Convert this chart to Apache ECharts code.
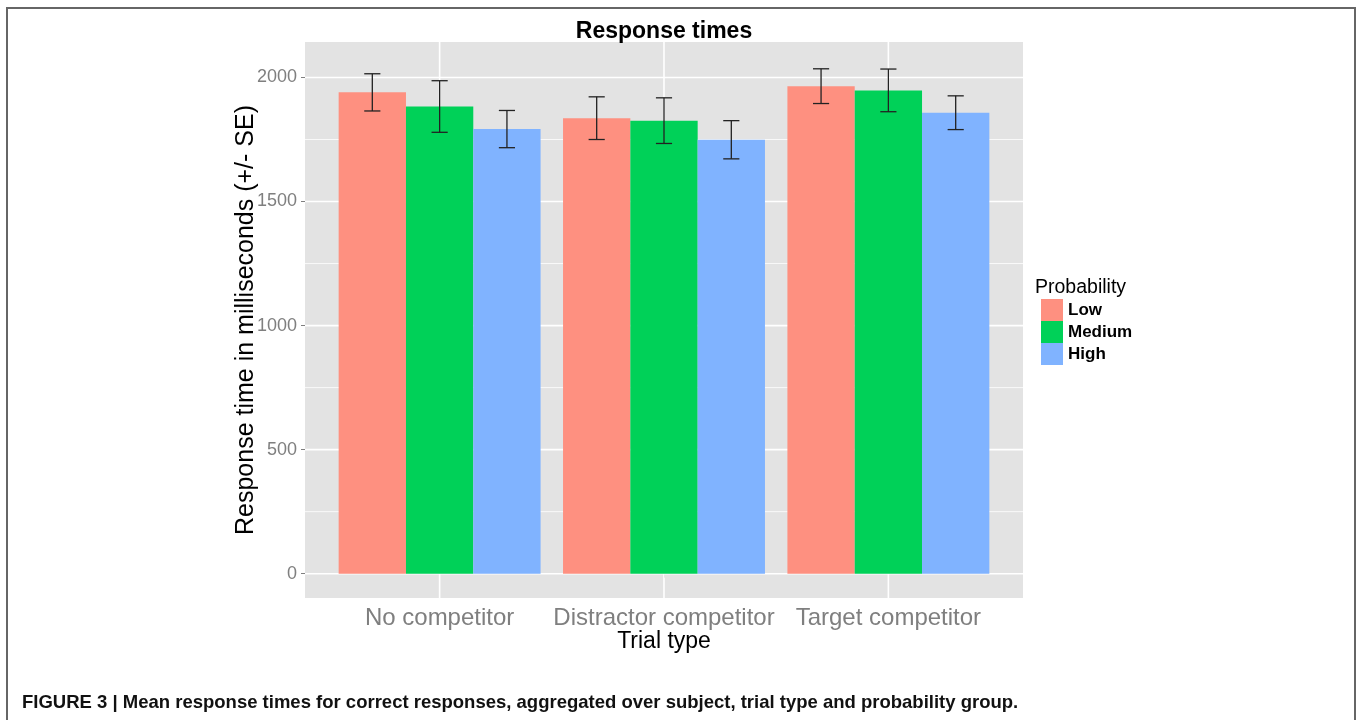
<!DOCTYPE html>
<html>
<head>
<meta charset="utf-8">
<title>Response times</title>
<script src="https://cdn.jsdelivr.net/npm/echarts@6/dist/echarts.min.js"></script>
<style>
    html, body { margin: 0; padding: 0; background: #fff; }
    #chart { width: 1358px; height: 720px; }
</style>
</head>
<body>
<div id="chart"></div>
<script>
// 数据
var categories = [ 'No competitor', 'Distractor competitor', 'Target competitor' ];
var levels = [ 'Low', 'Medium', 'High' ];
var lowMeans = [ 1940, 1836, 1965 ];
var mediumMeans = [ 1883, 1826, 1948 ];
var highMeans = [ 1792, 1749, 1858 ];
var lowSE = [ 75, 86, 70 ];
var mediumSE = [ 104, 92, 86 ];
var highSE = [ 75, 77, 68 ];
var yTicks = [ 0, 500, 1000, 1500, 2000 ];
var yMinor = [ 250, 750, 1250, 1750 ];
var xTicks = [ 1, 2, 3 ];

var colors = [ '#FE9080', '#00D158', '#80B3FF' ];
var FONT = 'Liberation Sans, Arial, sans-serif';

var resp_chart = {
    chart : null,
    dodge : 0.3,
    init : function() {
        this.chart = echarts.init(document.getElementById('chart'), null, { renderer : 'canvas' });
        this.chart.setOption(this.buildOption());
    },
    /**
     * 柱子 custom series
     */
    barSeries : function(name, k, means, color) {
        var dodge = this.dodge;
        var data = [];
        for (var i = 0; i < means.length; i++) {
            data.push([ xTicks[i] + (k - 1) * dodge, means[i] ]);
        }
        return {
            name : name,
            type : 'custom',
            z : 3,
            itemStyle : { color : color },
            data : data,
            renderItem : function(params, api) {
                var top = api.coord([ api.value(0), api.value(1) ]);
                var base = api.coord([ api.value(0), 0 ]);
                var w = api.size([ dodge, 0 ])[0];
                return {
                    type : 'rect',
                    shape : { x : top[0] - w / 2, y : top[1], width : w, height : base[1] - top[1] },
                    style : { fill : color }
                };
            }
        };
    },
    /**
     * 误差线
     */
    errSeries : function(k, means, se) {
        var dodge = this.dodge;
        var data = [];
        for (var i = 0; i < means.length; i++) {
            data.push([ xTicks[i] + (k - 1) * dodge, means[i] - se[i], means[i] + se[i] ]);
        }
        return {
            type : 'custom',
            z : 5,
            silent : true,
            data : data,
            renderItem : function(params, api) {
                var lo = api.coord([ api.value(0), api.value(1) ]);
                var hi = api.coord([ api.value(0), api.value(2) ]);
                var hw = api.size([ 0.072, 0 ])[0] / 2;
                var st = { stroke : '#222', lineWidth : 1.3 };
                return {
                    type : 'group',
                    children : [
                        { type : 'line', shape : { x1 : lo[0], y1 : lo[1], x2 : hi[0], y2 : hi[1] }, style : st },
                        { type : 'line', shape : { x1 : lo[0] - hw, y1 : lo[1], x2 : lo[0] + hw, y2 : lo[1] }, style : st },
                        { type : 'line', shape : { x1 : hi[0] - hw, y1 : hi[1], x2 : hi[0] + hw, y2 : hi[1] }, style : st }
                    ]
                };
            }
        };
    },
    /**
     * 网格线 (ggplot 样式)
     */
    gridSeries : function() {
        var data = [];
        for (var i = 0; i < yTicks.length; i++) data.push([ 'h', yTicks[i], 1.6 ]);
        for (var j = 0; j < yMinor.length; j++) data.push([ 'h', yMinor[j], 0.8 ]);
        for (var m = 0; m < xTicks.length; m++) data.push([ 'v', xTicks[m], 1.6 ]);
        return {
            type : 'custom',
            z : 1,
            silent : true,
            data : data,
            encode : { x : -1, y : -1 },
            renderItem : function(params, api) {
                var cs = params.coordSys;
                var d = data[params.dataIndex];
                var shape;
                if (d[0] == 'h') {
                    var y = api.coord([ 1, d[1] ])[1];
                    shape = { x1 : cs.x, y1 : y, x2 : cs.x + cs.width, y2 : y };
                } else {
                    var x = api.coord([ d[1], 0 ])[0];
                    shape = { x1 : x, y1 : cs.y, x2 : x, y2 : cs.y + cs.height };
                }
                return { type : 'line', shape : shape, style : { stroke : '#fff', lineWidth : d[2] } };
            }
        };
    },
    buildOption : function() {
        var series = [ this.gridSeries() ];
        series.push(this.barSeries(levels[0], 0, lowMeans, colors[0]));
        series.push(this.barSeries(levels[1], 1, mediumMeans, colors[1]));
        series.push(this.barSeries(levels[2], 2, highMeans, colors[2]));
        series.push(this.errSeries(0, lowMeans, lowSE));
        series.push(this.errSeries(1, mediumMeans, mediumSE));
        series.push(this.errSeries(2, highMeans, highSE));

        return {
            animation : false,
            textStyle : { fontFamily : FONT },
            grid : {
                left : 305,
                right : 335,
                top : 42,
                bottom : 122,
                show : true,
                backgroundColor : '#E3E3E3',
                borderWidth : 0
            },
            legend : {
                data : levels,
                orient : 'vertical',
                left : 1036,
                top : 294,
                itemWidth : 22,
                itemHeight : 22,
                itemGap : 0,
                icon : 'rect',
                textStyle : { fontSize : 17, fontWeight : 'bold', color : '#000' },
                selectedMode : false
            },
            xAxis : {
                type : 'value',
                min : 0.4,
                max : 3.6,
                name : 'Trial type',
                nameLocation : 'middle',
                nameGap : 32,
                nameMoveOverlap : false,
                nameTextStyle : { fontSize : 23, color : '#000' },
                axisLine : { show : false },
                splitLine : { show : false },
                axisTick : { show : true, length : 4, lineStyle : { color : '#7F7F7F' }, customValues : xTicks },
                axisLabel : {
                    customValues : xTicks,
                    fontSize : 24,
                    color : '#7F7F7F',
                    margin : 8,
                    formatter : function(v) {
                        return categories[Math.round(v) - 1];
                    }
                }
            },
            yAxis : {
                type : 'value',
                min : -98,
                max : 2143,
                name : 'Response time in milliseconds (+/- SE)',
                nameLocation : 'middle',
                nameRotate : 90,
                nameGap : 46,
                nameMoveOverlap : false,
                nameTextStyle : { fontSize : 25, color : '#000' },
                axisLine : { show : false },
                splitLine : { show : false },
                axisTick : { show : true, length : 4, lineStyle : { color : '#7F7F7F' }, customValues : yTicks },
                axisLabel : {
                    customValues : yTicks,
                    fontSize : 18,
                    color : '#7F7F7F',
                    margin : 8,
                    formatter : function(v) {
                        return String(v);
                    }
                }
            },
            graphic : [ {
                type : 'rect',
                shape : { x : 7, y : 8, width : 1348, height : 800 },
                style : { fill : 'none', stroke : '#666', lineWidth : 2 },
                silent : true
            }, {
                type : 'text',
                x : 664,
                y : 32,
                style : { text : 'Response times', fontSize : 23, fontWeight : 'bold', fill : '#000', textAlign : 'center', textVerticalAlign : 'middle', fontFamily : FONT }
            }, {
                type : 'text',
                x : 1035,
                y : 288,
                style : { text : 'Probability', fontSize : 19.5, fill : '#000', textVerticalAlign : 'middle', fontFamily : FONT }
            }, {
                type : 'text',
                x : 22,
                y : 703,
                style : { text : 'FIGURE 3 | Mean response times for correct responses, aggregated over subject, trial type and probability group.', fontSize : 18.5, fontWeight : 'bold', fill : '#111', textVerticalAlign : 'middle', fontFamily : FONT }
            } ],
            series : series
        };
    }
};

resp_chart.init();
</script>
</body>
</html>
